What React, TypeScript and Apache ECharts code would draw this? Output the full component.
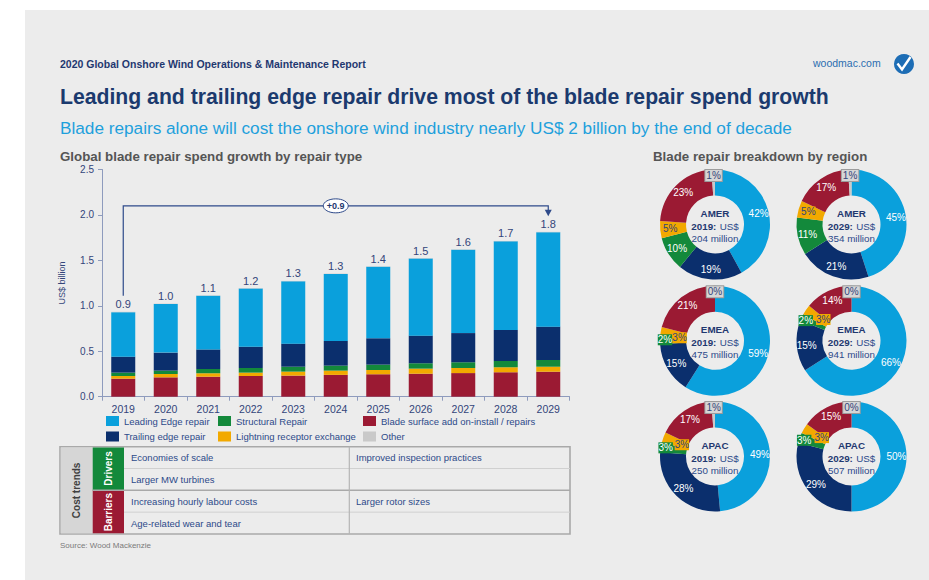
import React, { useEffect, useRef } from 'react';
import * as echarts from 'echarts';

const FONT = 'Liberation Sans, Arial, sans-serif';
const NAVY = '#33457a';
const TEXT_NAVY = '#2c4a8a';

// ---------- bar chart data ----------
const years = ['2019', '2020', '2021', '2022', '2023', '2024', '2025', '2026', '2027', '2028', '2029'];
const bladeSurface = [0.198, 0.213, 0.22, 0.228, 0.232, 0.24, 0.247, 0.253, 0.26, 0.269, 0.275];
const lightning = [0.03, 0.037, 0.038, 0.037, 0.044, 0.047, 0.047, 0.056, 0.056, 0.055, 0.055];
const structural = [0.037, 0.037, 0.047, 0.051, 0.054, 0.055, 0.059, 0.059, 0.063, 0.069, 0.074];
const trailing = [0.175, 0.198, 0.215, 0.234, 0.254, 0.272, 0.29, 0.304, 0.321, 0.342, 0.367];
const leading = [0.49, 0.535, 0.59, 0.64, 0.686, 0.736, 0.787, 0.848, 0.916, 0.975, 1.039];
const other = [0.004, 0.004, 0.004, 0.004, 0.004, 0.004, 0.004, 0.004, 0.004, 0.004, 0.004];
const totalLabels = ['0.9', '1.0', '1.1', '1.2', '1.3', '1.3', '1.4', '1.5', '1.6', '1.7', '1.8'];
const growthLabel = '+0.9';
const bracketLevel = 2.1;

// ---------- categories & colours ----------
const catLeading = 'Leading Edge repair';
const catTrailing = 'Trailing edge repair';
const catStructural = 'Structural Repair';
const catLightning = 'Lightning receptor exchange';
const catBlade = 'Blade surface add on-install / repairs';
const catOther = 'Other';
const pieCategories = [catLeading, catTrailing, catStructural, catLightning, catBlade, catOther];
const colors: Record<string, string> = {
  [catLeading]: '#0aa0dc',
  [catTrailing]: '#0b2f6d',
  [catStructural]: '#13893b',
  [catLightning]: '#f2a900',
  [catBlade]: '#9b1a33',
  [catOther]: '#c9c9c9',
};

// ---------- pie data (clockwise from 12 o'clock, order = pieCategories) ----------
const amer2019 = [42, 19, 10, 5, 23, 1];
const amer2029 = [45, 21, 11, 5, 17, 1];
const emea2019 = [59, 15, 2, 3, 21, 0];
const emea2029 = [66, 15, 2, 3, 14, 0];
const apac2019 = [49, 28, 3, 3, 17, 1];
const apac2029 = [50, 29, 3, 3, 15, 0];
const pieValues = [amer2019, amer2029, emea2019, emea2029, apac2019, apac2029];
const pieRegions = ['AMER', 'AMER', 'EMEA', 'EMEA', 'APAC', 'APAC'];
const pieYears = ['2019', '2029', '2019', '2029', '2019', '2029'];
const pieTotals = ['204', '354', '475', '941', '250', '507'];
const pieCenters = [
  [715, 224.5], [851.5, 224.5],
  [715, 340.8], [851.5, 340.8],
  [715, 456.5], [851.5, 456.5],
];

// ---------- table text ----------
const driversLeft = ['Economies of scale', 'Larger MW turbines'];
const driversRight = ['Improved inspection practices', ''];
const barriersLeft = ['Increasing hourly labour costs', 'Age-related wear and tear'];
const barriersRight = ['Larger rotor sizes', ''];

function txt(x: number, y: number, text: string, size: number, fill: string, extra: any = {}) {
  return {
    type: 'text',
    x,
    y,
    silent: true,
    rotation: extra.rotation || 0,
    style: {
      text,
      fill,
      fontSize: size,
      fontFamily: FONT,
      fontWeight: extra.bold ? 'bold' : 'normal',
      align: extra.align || 'left',
      verticalAlign: 'middle',
    },
  };
}

function staticGraphics(): any[] {
  const g: any[] = [];
  // header
  g.push(txt(60, 63.8, '2020 Global Onshore Wind Operations & Maintenance Report', 10.5, '#1f3870', { bold: true }));
  g.push(txt(813, 63, 'woodmac.com', 10.5, '#2b6cb0'));
  g.push({ type: 'circle', silent: true, shape: { cx: 904, cy: 64, r: 10 }, style: { fill: '#1d6db5' } });
  g.push({ type: 'polyline', silent: true, shape: { points: [[897.5, 63.5], [902, 69.5], [910.5, 57]] }, style: { stroke: '#fff', lineWidth: 2.4, fill: null } });
  g.push(txt(60, 96.5, 'Leading and trailing edge repair drive most of the blade repair spend growth', 21.2, '#1b3a6e', { bold: true }));
  g.push(txt(60, 128.4, 'Blade repairs alone will cost the onshore wind industry nearly US$ 2 billion by the end of decade', 17.2, '#1ea0dc'));
  g.push(txt(60, 156.5, 'Global blade repair spend growth by repair type', 13.3, '#555555', { bold: true }));
  g.push(txt(653, 156.5, 'Blade repair breakdown by region', 13.3, '#555555', { bold: true }));

  // pie centre texts
  pieCenters.forEach((c, i) => {
    g.push({
      type: 'text',
      x: c[0],
      y: c[1] + 1.5,
      silent: true,
      z: 10,
      style: {
        text: `{b|${pieRegions[i]}}\n{b|${pieYears[i]}:} {r|US$}\n{r|${pieTotals[i]} million}`,
        align: 'center',
        verticalAlign: 'middle',
        fontFamily: FONT,
        rich: {
          b: { fontWeight: 'bold', fontSize: 9.8, fill: '#1f3870', color: '#1f3870', lineHeight: 12.5, fontFamily: FONT },
          r: { fontWeight: 'normal', fontSize: 9.8, fill: '#2c4a8a', color: '#2c4a8a', lineHeight: 12.5, fontFamily: FONT },
        },
      },
    });
  });

  // table
  const tx0 = 60, tx1 = 570, ty0 = 446.7, ty1 = 534, tmid = 490.3, col1 = 92.7, col2 = 124, colDiv = 349.3;
  g.push({ type: 'rect', silent: true, shape: { x: tx0, y: ty0, width: tx1 - tx0, height: ty1 - ty0 }, style: { fill: '#ececec', stroke: '#a9a9a9', lineWidth: 1.6 } });
  g.push({ type: 'rect', silent: true, shape: { x: tx0 + 0.8, y: ty0 + 0.8, width: col1 - tx0 - 0.8, height: ty1 - ty0 - 1.6 }, style: { fill: '#d6d6d6' } });
  g.push({ type: 'rect', silent: true, shape: { x: col1, y: ty0 + 0.8, width: col2 - col1, height: tmid - ty0 - 0.8 }, style: { fill: '#13893b' } });
  g.push({ type: 'rect', silent: true, shape: { x: col1, y: tmid, width: col2 - col1, height: ty1 - tmid - 0.8 }, style: { fill: '#9b1a33' } });
  const row1 = (ty0 + tmid) / 2, row2 = (tmid + ty1) / 2;
  g.push({ type: 'line', silent: true, shape: { x1: col2, y1: row1, x2: tx1, y2: row1 }, style: { stroke: '#d0d0d0', lineWidth: 1 } });
  g.push({ type: 'line', silent: true, shape: { x1: col2, y1: row2, x2: tx1, y2: row2 }, style: { stroke: '#d0d0d0', lineWidth: 1 } });
  g.push({ type: 'line', silent: true, shape: { x1: col1, y1: tmid, x2: tx1, y2: tmid }, style: { stroke: '#a9a9a9', lineWidth: 1.5 } });
  g.push({ type: 'line', silent: true, shape: { x1: colDiv, y1: ty0, x2: colDiv, y2: ty1 }, style: { stroke: '#b5b5b5', lineWidth: 1.2 } });
  g.push(txt((tx0 + col1) / 2, (ty0 + ty1) / 2, 'Cost trends', 10, '#404040', { bold: true, align: 'center', rotation: Math.PI / 2 }));
  g.push(txt((col1 + col2) / 2, (ty0 + tmid) / 2, 'Drivers', 10, '#ffffff', { bold: true, align: 'center', rotation: Math.PI / 2 }));
  g.push(txt((col1 + col2) / 2, (tmid + ty1) / 2, 'Barriers', 10, '#ffffff', { bold: true, align: 'center', rotation: Math.PI / 2 }));
  const rowsY = [(ty0 + row1) / 2, (row1 + tmid) / 2, (tmid + row2) / 2, (row2 + ty1) / 2];
  const left = [...driversLeft, ...barriersLeft];
  const right = [...driversRight, ...barriersRight];
  rowsY.forEach((y, i) => {
    if (left[i]) g.push(txt(131, y, left[i], 9.5, TEXT_NAVY));
    if (right[i]) g.push(txt(356, y, right[i], 9.5, TEXT_NAVY));
  });
  g.push(txt(60, 545.5, 'Source: Wood Mackenzie', 8, '#7a7a7a'));
  return g;
}

function pieLabel(name: string, value: number) {
  if (name === catOther) {
    return { color: NAVY, backgroundColor: '#d6d6d6', borderColor: '#9c9c9c', borderWidth: 1, padding: [1, 1, 0, 1] };
  }
  if (name === catLightning) {
    return { color: NAVY, backgroundColor: colors[catLightning], padding: [1, 0, 0, 0] };
  }
  if (name === catStructural && value <= 3) {
    return { color: '#ffffff', backgroundColor: colors[catStructural], padding: [1, 0, 0, 0] };
  }
  return {};
}

const barSeriesDefs = [
  { name: catBlade, data: bladeSurface },
  { name: catLightning, data: lightning },
  { name: catStructural, data: structural },
  { name: catTrailing, data: trailing },
  { name: catLeading, data: leading },
  { name: catOther, data: other },
];

const legendPos = [
  { name: catLeading, left: 106, top: 416 },
  { name: catStructural, left: 218, top: 416 },
  { name: catBlade, left: 363, top: 416 },
  { name: catTrailing, left: 106, top: 431.5 },
  { name: catLightning, left: 218, top: 431.5 },
  { name: catOther, left: 363, top: 431.5 },
];

export default function App() {
  const ref = useRef<HTMLDivElement>(null);
  useEffect(() => {
    if (!ref.current) return;
    const chart = echarts.init(ref.current, undefined, { renderer: 'svg', width: 929, height: 580 });
    const option: any = {
      animation: false,
      backgroundColor: 'transparent',
      textStyle: { fontFamily: FONT },
      legend: legendPos.map((l) => ({
        data: [l.name],
        left: l.left,
        top: l.top,
        padding: 0,
        itemWidth: 13,
        itemHeight: 10,
        itemGap: 0,
        icon: 'rect',
        selectedMode: false,
        textStyle: { color: TEXT_NAVY, fontSize: 9.5, fontFamily: FONT, padding: [1, 0, 0, 0] },
      })),
      grid: { left: 102, right: 359.5, top: 169.5, bottom: 183.3, containLabel: false, outerBoundsMode: 'none' },
      xAxis: {
        type: 'category',
        data: years,
        axisLine: { lineStyle: { color: '#8e9bbd', width: 1 } },
        axisTick: { show: true, length: 4, lineStyle: { color: '#8e9bbd' } },
        axisLabel: { color: NAVY, fontSize: 10.5, margin: 7, fontFamily: FONT },
      },
      yAxis: {
        type: 'value',
        min: 0,
        max: 2.5,
        interval: 0.5,
        name: 'US$ billion',
        nameLocation: 'middle',
        nameGap: 36,
        nameTextStyle: { color: NAVY, fontSize: 9, fontFamily: FONT },
        axisLine: { show: true, lineStyle: { color: '#8e9bbd', width: 1 } },
        axisTick: { show: true, length: 4, lineStyle: { color: '#8e9bbd' } },
        splitLine: { show: false },
        axisLabel: { color: NAVY, fontSize: 10, margin: 8, fontFamily: FONT, formatter: (v: number) => v.toFixed(1) },
      },
      series: [
        ...barSeriesDefs.map((s, idx) => ({
          type: 'bar',
          name: s.name,
          stack: 'total',
          barWidth: 24,
          data: s.data,
          itemStyle: { color: colors[s.name] },
          emphasis: { disabled: true },
          label:
            idx === barSeriesDefs.length - 1
              ? {
                  show: true,
                  position: 'top',
                  distance: 2,
                  color: NAVY,
                  fontSize: 11,
                  fontFamily: FONT,
                  formatter: (p: any) => totalLabels[p.dataIndex],
                }
              : { show: false },
        })),
        ...pieValues.map((vals, i) => ({
          type: 'pie',
          name: `${pieRegions[i]} ${pieYears[i]}`,
          center: pieCenters[i],
          radius: [29, 55],
          startAngle: 90,
          clockwise: true,
          avoidLabelOverlap: false,
          emphasis: { disabled: true },
          labelLine: { show: false },
          label: { show: true, position: 'inside', formatter: '{c}%', color: '#ffffff', fontSize: 10, fontFamily: FONT },
          labelLayout: (p: any) => {
            const name = pieCategories[p.dataIndex];
            const v = vals[p.dataIndex];
            if (name === catOther) return { dy: -2 };
            if (name === catStructural && v <= 3) return { dx: -2.5, dy: -0.5 };
            if (name === catLightning && v <= 3) return { dx: 4.5, dy: 2 };
            return {};
          },
          data: pieCategories.map((name, j) => ({
            name,
            value: vals[j],
            itemStyle: { color: colors[name] },
            label: pieLabel(name, vals[j]),
          })),
        })),
      ],
    };
    chart.setOption(option);

    // bracket annotation derived from the axes
    const totals = years.map((_, i) => barSeriesDefs.reduce((acc, s) => acc + s.data[i], 0));
    const last = years.length - 1;
    const p0 = chart.convertToPixel({ gridIndex: 0 } as any, [0, totals[0]]) as number[];
    const pN = chart.convertToPixel({ gridIndex: 0 } as any, [last, totals[last]]) as number[];
    const yB = (chart.convertToPixel({ gridIndex: 0 } as any, [0, bracketLevel]) as number[])[1];
    const midX = (p0[0] + pN[0]) / 2;
    const bracket: any[] = [
      {
        type: 'polyline',
        silent: true,
        shape: { points: [[p0[0], p0[1] - 16], [p0[0], yB], [pN[0], yB], [pN[0], pN[1] - 21]] },
        style: { stroke: '#2e4a8a', lineWidth: 1.2, fill: null },
      },
      {
        type: 'polygon',
        silent: true,
        shape: { points: [[pN[0] - 3.5, pN[1] - 22], [pN[0] + 3.5, pN[1] - 22], [pN[0], pN[1] - 15.5]] },
        style: { fill: '#2e4a8a' },
      },
      {
        type: 'ellipse',
        silent: true,
        shape: { cx: midX, cy: yB, rx: 12.5, ry: 7 },
        style: { fill: '#ffffff', stroke: '#2e4a8a', lineWidth: 1 },
      },
      txt(midX, yB + 0.5, growthLabel, 9, '#1f3870', { bold: true, align: 'center' }),
    ];
    chart.setOption({ graphic: { elements: [...staticGraphics(), ...bracket] } });
    return () => chart.dispose();
  }, []);
  return (
    <div style={{ position: 'absolute', left: 0, top: 0, width: 929, height: 580, background: '#ffffff', overflow: 'hidden' }}>
      <div style={{ position: 'absolute', left: 25, top: 10, width: 904, height: 570, background: '#ececec' }} />
      <div ref={ref} style={{ position: 'absolute', left: 0, top: 0, width: 929, height: 580 }} />
    </div>
  );
}
